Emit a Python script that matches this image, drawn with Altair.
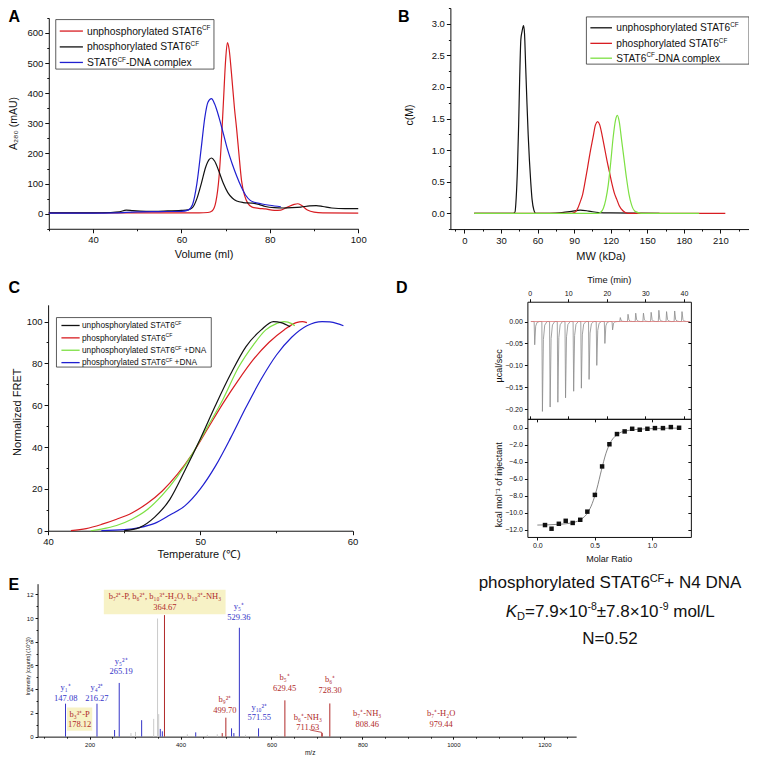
import altair as alt
import pandas as pd

# ===================== DATA =====================
# Panel A: SEC elution profiles (Volume ml, A280 mAU)
A_vol_unphos = [30, 40, 50, 60, 64, 66, 67, 67.8, 68.5, 69, 69.5, 70, 70.4, 70.8, 71.3, 72, 72.5, 73, 73.6, 74.3, 75, 76, 77.5, 79, 81, 82.5, 84, 85.5, 86.3, 87.2, 88.5, 90, 92, 100]
A_abs_unphos = [3, 3, 3, 3, 3, 4, 10, 40, 120, 230, 370, 510, 568, 545, 470, 350, 280, 200, 110, 60, 35, 22, 18, 16, 11, 12, 22, 31, 33, 27, 12, 5, 3, 2]
A_vol_phos = [30, 40, 44, 46, 47.5, 49, 52, 56, 60, 61.5, 62.5, 63.5, 64.5, 65.5, 66.3, 66.8, 67.5, 68.5, 69.5, 70.5, 71.5, 72.5, 74, 76, 77.5, 79, 81, 83, 85, 87, 89, 90.5, 92, 94, 97, 100]
A_abs_phos = [3, 3, 4, 6, 12, 10, 8, 9, 11, 13, 20, 50, 100, 155, 180, 185, 175, 140, 100, 70, 52, 42, 37, 35, 31, 24, 20, 19, 20, 22, 26, 27, 24, 19, 17, 17]
A_vol_cplx = [30, 40, 45, 50, 55, 60, 61.5, 62.5, 63.5, 64.5, 65.3, 66, 66.8, 67.5, 68.5, 69.5, 70.5, 71.5, 72.5, 73.5, 74.5, 75.5, 76.5, 78, 80, 82.5]
A_abs_cplx = [2, 2, 3, 6, 7, 8, 12, 30, 100, 220, 320, 370, 382, 365, 320, 265, 210, 165, 125, 90, 62, 45, 38, 33, 28, 23]

# Panel B: c(M) distributions (MW kDa)
B_mw_unphos = [8, 40, 41.5, 42.5, 43.5, 44.5, 45.3, 46.3, 47.3, 48.5, 49.3, 50.3, 51.3, 52.3, 53.3, 54.4, 55.5, 57, 58.5, 70, 80, 88, 95, 102, 110, 120, 160]
B_c_unphos = [0, 0, 0.02, 0.25, 0.7, 1.4, 2.1, 2.75, 2.88, 2.97, 2.85, 2.3, 1.75, 1.25, 0.85, 0.5, 0.22, 0.05, 0, 0, 0.01, 0.03, 0.05, 0.035, 0.01, 0.005, 0]
B_mw_phos = [8, 88, 91, 93, 95, 97, 99, 101, 103, 105.5, 107.5, 109.3, 111, 113, 115, 117, 119, 121, 123, 125, 127, 130, 134, 214]
B_c_phos = [0, 0, 0.02, 0.08, 0.18, 0.3, 0.5, 0.72, 0.95, 1.2, 1.4, 1.45, 1.4, 1.23, 1.03, 0.83, 0.65, 0.47, 0.32, 0.22, 0.12, 0.04, 0, 0]
B_mw_cplx = [8, 110, 112, 114, 116, 118, 120, 122, 124, 125.5, 127, 129, 131, 133, 135, 137, 140, 145, 192.6]
B_c_cplx = [0, 0, 0.02, 0.08, 0.22, 0.45, 0.8, 1.2, 1.48, 1.55, 1.45, 1.15, 0.85, 0.55, 0.3, 0.14, 0.03, 0, 0]

# Panel C: FRET melting curves
C_T_unphos = [45, 46, 47, 48, 49, 50, 51, 52, 53, 54, 54.8, 55.3, 55.9]
C_F_unphos = [0, 1.5, 6.5, 15, 29, 44, 60, 75, 88, 96, 100, 99.5, 97.5]
C_T_phos = [41.5, 42.5, 43.5, 44.5, 45.5, 46.5, 47.5, 48.5, 49.5, 50.5, 51.5, 52.5, 53.5, 54.5, 55.5, 56.3, 56.7, 57]
C_F_phos = [0, 1, 3, 5.5, 8.5, 13, 19, 27, 37, 49, 61, 72, 82, 90, 96, 99.5, 100, 99.5]
C_T_unphosDNA = [42.8, 43.5, 44.5, 45.5, 46.5, 47.5, 48.5, 49.5, 50.5, 51.5, 52.5, 53.5, 54.3, 55, 55.5, 56, 56.2]
C_F_unphosDNA = [0, 0.8, 2.5, 5.5, 10, 17, 26, 37, 50, 63, 78, 89, 96, 99, 100, 99, 98]
C_T_phosDNA = [43.5, 45, 46, 47, 48, 49, 50, 51, 52, 53, 54, 55, 56, 57, 58, 58.5, 59, 59.4]
C_F_phosDNA = [0, 0.5, 1.5, 3.5, 7.5, 12, 20, 31, 44.5, 59, 72.5, 84, 92.5, 98, 100, 99.8, 99, 98]

# Panel D: ITC
D_inj_time = [1.2, 3.2, 5.2, 7.2, 9.2, 11.3, 13.3, 15.3, 17.3, 19.4, 21.4, 23.4, 25.4, 27.4, 29.4, 31.4, 33.4, 35.4, 37.5, 39.4]
D_inj_peak = [-0.053, -0.205, -0.195, -0.184, -0.174, -0.159, -0.152, -0.132, -0.100, -0.050, -0.019, 0.009, 0.0165, 0.019, 0.019, 0.021, 0.0256, 0.0226, 0.024, 0.0226]
D_base_t = [0.3, 41.5]
D_base_v = [0.0, 0.0]
D_ratio = [0.067, 0.124, 0.188, 0.248, 0.309, 0.375, 0.437, 0.503, 0.566, 0.630, 0.696, 0.763, 0.829, 0.895, 0.962, 1.028, 1.098, 1.167, 1.239]
D_heat = [-11.45, -11.88, -11.30, -10.95, -11.20, -10.83, -9.87, -7.90, -4.55, -1.94, -0.74, -0.43, -0.12, -0.23, -0.12, -0.04, -0.04, 0.08, 0.0]
D_fit_x = [0.0, 0.1, 0.2, 0.3, 0.35, 0.4, 0.44, 0.48, 0.52, 0.56, 0.60, 0.64, 0.68, 0.72, 0.78, 0.85, 0.95, 1.05, 1.15, 1.24]
D_fit_y = [-11.45, -11.42, -11.35, -11.2, -11.0, -10.6, -10.0, -8.9, -7.2, -5.0, -3.0, -1.7, -1.0, -0.6, -0.35, -0.22, -0.12, -0.08, -0.05, -0.04]

# Panel E: MS/MS spectrum
E_peak_mz = [147.1, 216.3, 255.0, 265.2, 291.0, 301.0, 314.5, 341.0, 349.5, 352.0, 355.5, 360.0, 364.7, 415.0, 433.4, 458.9, 480.8, 491.7, 499.7, 512.2, 517.3, 529.4, 543.0, 571.6, 612.0, 629.5, 711.6, 728.3]
E_peak_int = [2.78, 2.78, 0.56, 4.53, 0.3, 0.4, 1.39, 1.5, 9.96, 1.9, 0.65, 0.45, 10.25, 0.2, 0.36, 0.15, 0.2, 0.3, 1.6, 0.7, 0.3, 9.18, 0.15, 0.7, 0.12, 3.06, 0.3, 2.8]
E_peak_kind = ['y', 'y', 'y', 'y', 'u', 'u', 'y', 'u', 'u', 'u', 'y', 'y', 'b', 'u', 'y', 'u', 'u', 'b', 'b', 'y', 'y', 'y', 'u', 'y', 'u', 'b', 'b', 'b']
E_lab_name = ["y₁⁺", "y₄²⁺", "y₅²⁺", "b₃³⁺-P", "b₇²⁺-P, b₆²⁺, b₁₀³⁺-H₂O, b₁₀³⁺-NH₃", "y₅⁺", "b₉²⁺", "y₁₀²⁺", "b₅⁺", "b₆⁺", "b₆⁺-NH₃", "b₇⁺-NH₃", "b₇⁺-H₂O"]
E_lab_val = ["147.08", "216.27", "265.19", "178.12", "364.67", "529.36", "499.70", "571.55", "629.45", "728.30", "711.63", "808.46", "979.44"]
E_lab_mz = [147.5, 216.0, 269.4, 178.1, 365.6, 528.2, 497.6, 573.1, 628.9, 728.9, 679.9, 810.5, 973.1]
E_lab_int = [4.17, 4.17, 6.4, 1.92, 11.85, 11.0, 3.15, 2.5, 5.0, 4.82, 1.69, 1.98, 1.98]
E_lab_kind = ['y', 'y', 'y', 'b', 'b', 'y', 'b', 'y', 'b', 'b', 'b', 'b', 'b']
E_box_mz = [231.3, 150.3]
E_box_mz2 = [499.1, 205.9]
E_box_int = [12.38, 2.45]
E_box_int2 = [10.33, 0.5]
E_lead_mz = [685.1, 710.5, 710.5]
E_lead_int = [0.56, 0.36, 0.0]

# Legends / texts
LEG_A = [("unphosphorylated STAT6", "CF", ""), ("phosphorylated STAT6", "CF", ""), ("STAT6", "CF", "-DNA complex")]
LEG_B = [("unphosphorylated STAT6", "CF", ""), ("phosphorylated STAT6", "CF", ""), ("STAT6", "CF", "-DNA complex")]
LEG_C = [("unphosphorylated STAT6", "CF", ""), ("phosphorylated STAT6", "CF", ""),
         ("unphosphorylated STAT6", "CF", " +DNA"), ("phosphorylated STAT6", "CF", " +DNA")]

RED, BLACK, BLUE, GREEN = '#d81d22', '#111111', '#1f1fd0', '#7de043'
E_COL = {'y': '#3434c8', 'b': '#b02a2a', 'u': '#cacaca'}

# ===================== LAYOUT HELPERS =====================
W, H = 741, 748


def PX(p):
    return (p - 8.0) * 0.995


def PY(p):
    return (p - 5.0) * 0.99


def sc(dom, r0, r1, horiz):
    rng = [PX(r0), PX(r1)] if horiz else [PY(r0), PY(r1)]
    return alt.Scale(domain=list(dom), range=rng, zero=False, nice=False)


def axis(orient, pos, values, size=9, tick=4, labels=True, fmt=None, domain=True, pad=2):
    if orient == 'left':
        off = -PX(pos)
    elif orient == 'right':
        off = PX(pos) - W
    elif orient == 'top':
        off = -PY(pos)
    else:
        off = PY(pos) - H
    kw = dict(title=None, grid=False, labelFlush=False, labelOverlap=False,
              domainColor='#111', tickColor='#111', labelColor='#111',
              labelFont='Liberation Sans', domainWidth=1, tickWidth=1,
              orient=orient, offset=off, values=values, labels=labels,
              labelFontSize=size, domain=domain, labelPadding=pad)
    if tick > 0:
        kw['tickSize'] = tick
    else:
        kw['ticks'] = False
    if fmt:
        kw['format'] = fmt
    return alt.Axis(**kw)


def curves_df(series):
    rows = []
    for i, (xv, yv, col) in enumerate(series):
        for a, b in zip(xv, yv):
            rows.append({'x': a, 'y': b, 's': i, 'c': col})
    return pd.DataFrame(rows)


def line_layer(df, xsc, ysc, xax=None, yax=None, sw=1.2, interp='monotone', opacity=1.0):
    return alt.Chart(df).mark_line(strokeWidth=sw, interpolate=interp, opacity=opacity).encode(
        x=alt.X('x:Q', scale=xsc, axis=xax),
        y=alt.Y('y:Q', scale=ysc, axis=yax),
        color=alt.Color('c:N', scale=None),
        detail='s:N')


_AW = {' ': 278, '(': 333, ')': 333, '+': 584, ',': 278, '-': 333, '.': 278, '/': 278, '=': 584,
       'A': 667, 'B': 667, 'C': 722, 'D': 722, 'E': 667, 'F': 611, 'H': 722, 'K': 667, 'L': 556,
       'M': 833, 'N': 722, 'P': 667, 'S': 667, 'T': 611,
       'a': 556, 'c': 500, 'd': 556, 'e': 556, 'h': 556, 'i': 222, 'l': 222, 'm': 833, 'n': 556,
       'o': 556, 'p': 556, 'r': 333, 's': 500, 't': 278, 'u': 556, 'x': 500, 'y': 500,
       '×': 584, '±': 584}
_KERN = {'AT': -74, 'TA': -74, 'ry': -18}


def tw(s, size):
    w = sum(_AW.get(ch, 556) for ch in s)
    w += sum(_KERN.get(s[i:i + 2], 0) for i in range(len(s) - 1))
    return w * size / 1000.0


def rich(segs, x, base, align='left', col='#111'):
    widths = [tw(t, s) for t, s, r, it in segs]
    left = PX(x) - (sum(widths) / 2 if align == 'center' else 0)
    rows = []
    for (t, s, r, it), w in zip(segs, widths):
        body = t.lstrip(' ')
        lead = tw(t[:len(t) - len(body)], s)
        if body:
            rows.append(dict(px=left + lead, py=PY(base) - r, text=body, size=s, col=col, it=it))
        left += w
    return rows


def px_text(rows, **mk):
    df = pd.DataFrame(rows)
    return alt.Chart(df).mark_text(**mk).encode(
        x=alt.X('px:Q', scale=None, axis=None),
        y=alt.Y('py:Q', scale=None, axis=None),
        text='text:N',
        size=alt.Size('size:Q', scale=None, legend=None),
        color=alt.Color('col:N', scale=None))


layers = []

# ---------------- Panel A ----------------
A_df = curves_df([(A_vol_unphos, A_abs_unphos, RED), (A_vol_phos, A_abs_phos, BLACK), (A_vol_cplx, A_abs_cplx, BLUE)])
A_xs = sc((30, 100), 49, 360, True)
A_ys = sc((-50, 650), 228, 15, False)
layers.append(line_layer(A_df, A_xs, A_ys,
                         axis('bottom', 228, [40, 60, 80, 100], 9.5, 4),
                         axis('left', 49, [0, 100, 200, 300, 400, 500, 600], 9.5, 4)))
layers.append(line_layer(A_df, A_xs, A_ys,
                         axis('bottom', 228, [30, 50, 70, 90], tick=2, labels=False, domain=False),
                         axis('left', 49, [-50, 50, 150, 250, 350, 450, 550, 650], tick=2, labels=False, domain=False),
                         opacity=0))

# ---------------- Panel B ----------------
B_df = curves_df([(B_mw_unphos, B_c_unphos, BLACK), (B_mw_phos, B_c_phos, RED), (B_mw_cplx, B_c_cplx, GREEN)])
B_xs = sc((-11.5, 233.5), 452.6, 752.8, True)
B_ys = sc((-0.25, 3.25), 228.3, 5.0, False)
layers.append(line_layer(B_df, B_xs, B_ys,
                         axis('bottom', 228.3, [0, 30, 60, 90, 120, 150, 180, 210], 9.5, 4),
                         axis('left', 452.6, [0, 0.5, 1.0, 1.5, 2.0, 2.5, 3.0], 9.5, 4, fmt='.1f')))
layers.append(line_layer(B_df, B_xs, B_ys,
                         axis('bottom', 228.3, [-7.5, 15, 45, 75, 105, 135, 165, 195, 225], tick=2, labels=False, domain=False),
                         axis('left', 452.6, [-0.25, 0.25, 0.75, 1.25, 1.75, 2.25, 2.75, 3.25], tick=2, labels=False, domain=False),
                         opacity=0))

# ---------------- Panel C ----------------
C_df = curves_df([(C_T_phos, C_F_phos, RED), (C_T_phosDNA, C_F_phosDNA, BLUE),
                  (C_T_unphosDNA, C_F_unphosDNA, GREEN), (C_T_unphos, C_F_unphos, BLACK)])
C_xs = sc((40, 60), 48.3, 354.3, True)
C_ys = sc((0, 108), 533, 304.8, False)
layers.append(line_layer(C_df, C_xs, C_ys,
                         axis('bottom', 533, [40, 50, 60], 9.5, 4),
                         axis('left', 48.3, [0, 20, 40, 60, 80, 100], 9.5, 4)))
layers.append(line_layer(C_df, C_xs, C_ys,
                         axis('bottom', 533, [45, 55], tick=2, labels=False, domain=False),
                         axis('left', 48.3, [10, 30, 50, 70, 90], tick=2, labels=False, domain=False),
                         opacity=0))

# ---------------- Panel D (top: raw heat) ----------------
tr_t, tr_v = [0.3], [0.0]
for t, p in zip(D_inj_time, D_inj_peak):
    tr_t += [t - 0.05, t + 0.1, t + 0.35, t + 0.7, t + 1.3]
    tr_v += [0.0, p, p * 0.2, p * 0.04, 0.0]
tr_t.append(41.5)
tr_v.append(0.0)
Dt_df = curves_df([(tr_t, tr_v, '#8a8a8a')])
Db_base = curves_df([(D_base_t, D_base_v, '#e07a7a')])
Dt_xs = sc((-0.6, 41.8), 530, 694.3, True)
Dt_ys = sc((-0.2219, 0.0451), 420, 301.7, False)
layers.append(line_layer(Dt_df, Dt_xs, Dt_ys,
                         axis('top', 301.7, [0, 10, 20, 30, 40], 7, 3),
                         axis('left', 530, [0, -0.05, -0.1, -0.15, -0.2], 7, 3, fmt='.2f'),
                         sw=0.8, interp='linear'))
layers.append(line_layer(Db_base, Dt_xs, Dt_ys,
                         axis('top', 420, [0, 10, 20, 30, 40], tick=3, labels=False),
                         axis('left', 694.3, [0, -0.05, -0.1, -0.15, -0.2], tick=3, labels=False),
                         sw=0.8, interp='linear'))

# ---------------- Panel D (bottom: integrated heats) ----------------
Db_xs = sc((-0.087, 1.342), 530, 694.3, True)
Db_ys = sc((-12.85, 1.05), 539.3, 420, False)
fit_df = curves_df([(D_fit_x, D_fit_y, '#666666')])
layers.append(line_layer(fit_df, Db_xs, Db_ys,
                         axis('bottom', 539.3, [0, 0.5, 1.0], 7, 3, fmt='.1f'),
                         axis('left', 530, [0, -2, -4, -6, -8, -10, -12], 7, 3, fmt='.1f'),
                         sw=0.8))
pts_df = pd.DataFrame({'x': D_ratio, 'y': D_heat})
layers.append(alt.Chart(pts_df).mark_square(size=20, color='#111', opacity=1).encode(
    x=alt.X('x:Q', scale=Db_xs, axis=axis('bottom', 420, [0, 0.5, 1.0], tick=3, labels=False)),
    y=alt.Y('y:Q', scale=Db_ys, axis=axis('left', 694.3, [0, -2, -4, -6, -8, -10, -12], tick=3, labels=False))))

# ---------------- Panel E ----------------
E_xs = sc((85.6, 1270), 37.7, 579, True)
E_ys = sc((0, 12.9), 741, 586.5, False)
box_df = pd.DataFrame({'x': E_box_mz, 'x2': E_box_mz2, 'y': E_box_int, 'y2': E_box_int2})
layers.append(alt.Chart(box_df).mark_rect(fill='#f7f2c6').encode(
    x=alt.X('x:Q', scale=E_xs, axis=None), x2='x2:Q',
    y=alt.Y('y:Q', scale=E_ys, axis=None), y2='y2:Q'))
stick_df = pd.DataFrame({'mz': E_peak_mz, 'inten': E_peak_int, 'base': [0.0] * len(E_peak_mz),
                         'col': [E_COL[k] for k in E_peak_kind]})
layers.append(alt.Chart(stick_df).mark_rule(strokeWidth=1).encode(
    x=alt.X('mz:Q', scale=E_xs, axis=axis('bottom', 741, [200, 400, 600, 800, 1000, 1200], 6, 2.5, fmt='d')),
    y=alt.Y('inten:Q', scale=E_ys, axis=axis('left', 37.7, [0, 2, 4, 6, 8, 10, 12], 6, 2.5, fmt='d')),
    y2='base:Q', color=alt.Color('col:N', scale=None)))
layers.append(alt.Chart(stick_df).mark_rule(opacity=0).encode(
    x=alt.X('mz:Q', scale=E_xs, axis=axis('bottom', 741, [100, 150, 250, 300, 350, 450, 500, 550, 650, 700, 750, 850, 900, 950, 1050, 1100, 1150, 1250], tick=1.5, labels=False, domain=False)),
    y=alt.Y('inten:Q', scale=E_ys, axis=axis('left', 37.7, [1, 3, 5, 7, 9, 11], tick=1.5, labels=False, domain=False)),
    y2='base:Q'))
lead_df = pd.DataFrame({'x': E_lead_mz, 'y': E_lead_int, 'o': list(range(len(E_lead_mz)))})
layers.append(alt.Chart(lead_df).mark_line(color='#b02a2a', strokeWidth=0.8).encode(
    x=alt.X('x:Q', scale=E_xs, axis=None), y=alt.Y('y:Q', scale=E_ys, axis=None), order='o:Q'))
lab_df = pd.DataFrame({'x': E_lab_mz, 'y': E_lab_int, 'name': E_lab_name, 'val': E_lab_val,
                       'col': [E_COL[k] for k in E_lab_kind]})
for field, dy in (('name', 0), ('val', 10.5)):
    layers.append(alt.Chart(lab_df).mark_text(font='Liberation Serif', fontSize=8.5, align='center',
                                              baseline='middle', dy=dy).encode(
        x=alt.X('x:Q', scale=E_xs, axis=None), y=alt.Y('y:Q', scale=E_ys, axis=None),
        text=f'{field}:N', color=alt.Color('col:N', scale=None)))

# ---------------- Legends ----------------
leg_specs = [
    (LEG_A, [RED, BLACK, BLUE], (56, 16.7, 215, 66.7), (60, 83.3), 87.3, [28.3, 44.3, 60.0], 10.3),
    (LEG_B, [BLACK, RED, GREEN], (589.3, 14, 752.7, 61.7), (593.3, 615), 619.3, [25.0, 40.7, 55.7], 10.2),
    (LEG_C, [BLACK, RED, GREEN, BLUE], (56.7, 317.7, 212.3, 367.7), (61.7, 80), 82.3, [325.7, 338.2, 350.7, 363.2], 8.3),
]
box_rows, line_rows, leg_text = [], [], []
for labels, cols, box, lx, tx, rows, fs in leg_specs:
    box_rows.append(dict(px=PX(box[0]), px2=PX(box[2]), py=PY(box[1]), py2=PY(box[3])))
    for (pre, sup, post), col, ry in zip(labels, cols, rows):
        line_rows.append(dict(px=PX(lx[0]), px2=PX(lx[1]), py=PY(ry), col=col))
        leg_text += rich([(pre, fs, 0, False), (sup, fs * 0.62, fs * 0.42, False), (post, fs, 0, False)],
                         tx, ry + 0.35 * fs)
layers.append(alt.Chart(pd.DataFrame(box_rows)).mark_rect(fill='white', stroke='#333', strokeWidth=0.8).encode(
    x=alt.X('px:Q', scale=None, axis=None), x2='px2:Q',
    y=alt.Y('py:Q', scale=None, axis=None), y2='py2:Q'))
layers.append(alt.Chart(pd.DataFrame(line_rows)).mark_rule(strokeWidth=1.3).encode(
    x=alt.X('px:Q', scale=None, axis=None), x2='px2:Q',
    y=alt.Y('py:Q', scale=None, axis=None), color=alt.Color('col:N', scale=None)))

# ---------------- Right text block ----------------
block = []
block += rich([("phosphorylated STAT6", 17, 0, False), ("CF", 11, 6.5, False), ("+ N4 DNA", 17, 0, False)], 613, 591, 'center')
block += rich([("K", 17, 0, True), ("D", 11, -3.5, False), ("=7.9×10", 17, 0, False), ("-8", 10.5, 7, False),
               ("±7.8×10", 17, 0, False), ("-9", 10.5, 7, False), (" mol/L", 17, 0, False)], 613.3, 620, 'center')
block += rich([("N=0.52", 17, 0, False)], 613, 647.3, 'center')

all_rich = leg_text + block
normal = [r for r in all_rich if not r['it']]
italic = [r for r in all_rich if r['it']]
layers.append(px_text(normal, align='left', baseline='alphabetic', font='Liberation Sans'))
layers.append(px_text(italic, align='left', baseline='alphabetic', font='Liberation Sans', fontStyle='italic'))

# ---------------- Panel letters & axis titles ----------------
letters = [dict(px=max(PX(x), 0.5), py=PY(y), text=t, size=16, col='#000') for t, x, y in
           [("A", 2, 19.0), ("B", 400, 19.0), ("C", 2, 292.7), ("D", 398, 292.7), ("E", 2, 593.3)]]
layers.append(px_text(letters, align='left', baseline='alphabetic', font='Liberation Sans', fontWeight='bold'))

titles_h = [("Volume (ml)", 205, 254, 11), ("MW (kDa)", 604, 256.7, 11), ("Temperature (℃)", 200, 557.7, 11),
            ("Time (min)", 612.3, 279.3, 9.3), ("Molar Ratio", 612.3, 561.7, 9), ("m/z", 311.7, 757.5, 6.5)]
titles_v = [("A₂₈₀ (mAU)", 14.0, 121.7, 10.5), ("c(M)", 412, 113, 10.5), ("Normalized FRET", 18.3, 413.3, 11),
            ("µcal/sec", 501.7, 366.5, 9), ("kcal mol⁻¹ of injectant", 501.7, 486.5, 9),
            ("Intensity [counts] (10^3)", 28.3, 670, 5.5)]
layers.append(px_text([dict(px=PX(x), py=PY(y), text=t, size=s, col='#111') for t, x, y, s in titles_h],
                      align='center', baseline='middle', font='Liberation Sans'))
layers.append(px_text([dict(px=PX(x), py=PY(y), text=t, size=s, col='#111') for t, x, y, s in titles_v],
                      align='center', baseline='middle', font='Liberation Sans', angle=270))

chart = alt.layer(*layers).resolve_scale(x='independent', y='independent').properties(
    width=W, height=H, autosize=alt.AutoSizeParams(type='none'), padding=0
).configure_view(stroke=None).configure_axis(grid=False)

chart.save("out.html", embed_options={"renderer": "svg", "actions": False})
